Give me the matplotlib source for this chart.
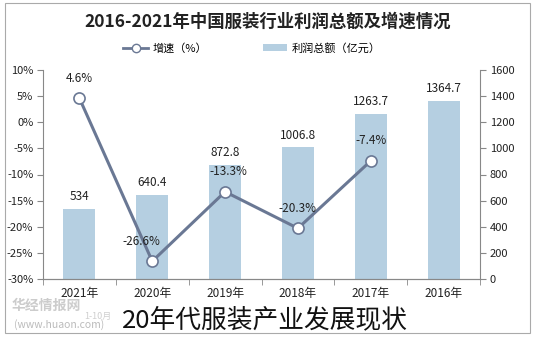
import numpy as np
import matplotlib.pyplot as plt
from matplotlib.lines import Line2D
from matplotlib.patches import Patch, Rectangle

plt.rcParams['font.family'] = ['Noto Sans CJK SC', 'DejaVu Sans']

years = ["2021年", "2020年", "2019年", "2018年", "2017年", "2016年"]
profit = [534, 640.4, 872.8, 1006.8, 1263.7, 1364.7]          # 亿元
growth = [4.6, -26.6, -13.3, -20.3, -7.4]                      # %
growth_labels = ["4.6%", "-26.6%", "-13.3%", "-20.3%", "-7.4%"]
pct_ticks = [10, 5, 0, -5, -10, -15, -20, -25, -30]
amt_ticks = [0, 200, 400, 600, 800, 1000, 1200, 1400, 1600]

bar_color = "#b5cfe1"
line_color = "#6a7894"
text_color = "#222222"

fig = plt.figure(figsize=(5.36, 3.37), dpi=100)
W, H = 536, 337
ax = fig.add_axes([43 / W, 1 - 279 / H, (480 - 43) / W, (279 - 70) / H])
ax2 = ax.twinx()

x = np.arange(len(years))

# profit bars on the right-hand scale
ax2.bar(x, profit, width=0.44, color=bar_color, zorder=1)
ax2.set_ylim(0, 1600)
ax2.set_yticks(amt_ticks)
ax2.set_yticklabels([str(v) for v in amt_ticks], fontsize=8, color=text_color)
for xi, v in zip(x, profit):
    ax2.text(xi, v + 45, f"{v:g}", ha="center", va="bottom", fontsize=8.5,
             color=text_color)

# growth line on the left-hand scale, drawn above the bars
ax.set_zorder(ax2.get_zorder() + 1)
ax.patch.set_visible(False)
ax.plot(x[:len(growth)], growth, color=line_color, lw=2.2, marker="o",
        markersize=8, markerfacecolor="white", markeredgecolor=line_color,
        markeredgewidth=1.2, zorder=3)
label_dx = [0, -0.15, 0.05, 0, 0]
for xi, v, s, dx in zip(x, growth, growth_labels, label_dx):
    ax.text(xi + dx, v + 2.6, s, ha="center", va="bottom", fontsize=8.5,
            color=text_color)
ax.set_ylim(-30, 10)
ax.set_yticks(pct_ticks)
ax.set_yticklabels([f"{v}%" for v in pct_ticks], fontsize=8, color=text_color)

ax.set_xlim(-0.5, len(years) - 0.5)
ax.set_xticks(x)
ax.set_xticklabels(years, fontsize=8.5, color=text_color)
ax.set_xticks(np.arange(-0.5, len(years), 1), minor=True)
ax.tick_params(axis="x", which="major", length=0, pad=6)
ax.tick_params(axis="x", which="minor", length=4, color="#888888")

for a in (ax, ax2):
    a.spines["top"].set_visible(False)
    for side in ("left", "right", "bottom"):
        a.spines[side].set_color("#888888")
ax.spines["right"].set_visible(False)
ax2.spines["left"].set_visible(False)
ax.tick_params(axis="y", length=4, color="#888888", pad=3)
ax2.tick_params(axis="y", length=4, color="#888888", pad=3)

# title and legend
fig.text(0.5, 1 - 22 / H, "2016-2021年中国服装行业利润总额及增速情况",
         ha="center", va="center", fontsize=12.5, fontweight="bold",
         color=text_color)
handles = [Line2D([0], [0], color=line_color, lw=2, marker="o", markersize=6,
                  markerfacecolor="white", markeredgecolor=line_color),
           Patch(facecolor=bar_color)]
fig.legend(handles, ["增速（%）", "利润总额（亿元）"], loc="center",
           bbox_to_anchor=(0.47, 1 - 48 / H), ncol=2, frameon=False,
           fontsize=8, columnspacing=5, handlelength=2.2, handletextpad=0.4)

# source watermark
fig.text(12 / W, 1 - 306 / H, "华经情报网", fontsize=10, fontweight="bold",
         color="#cccccc", va="center")
fig.text(84 / W, 1 - 316 / H, "1-10月", fontsize=6.5, color="#cfcfcf",
         va="center")
fig.text(14 / W, 1 - 325 / H, "(www.huaon.com)", fontsize=7.5,
         color="#bbbbbb", va="center")
fig.text(0.495, 1 - 320 / H, "20年代服装产业发展现状", ha="center", va="center",
         fontsize=18.5, color="#111111", fontweight="light")

# outer frame
fig.patches.append(Rectangle((5 / W, 4 / H), 525 / W, 330 / H,
                             transform=fig.transFigure, fill=False,
                             edgecolor="#aaaaaa", lw=0.8))

fig.savefig("out.png", dpi=100)
